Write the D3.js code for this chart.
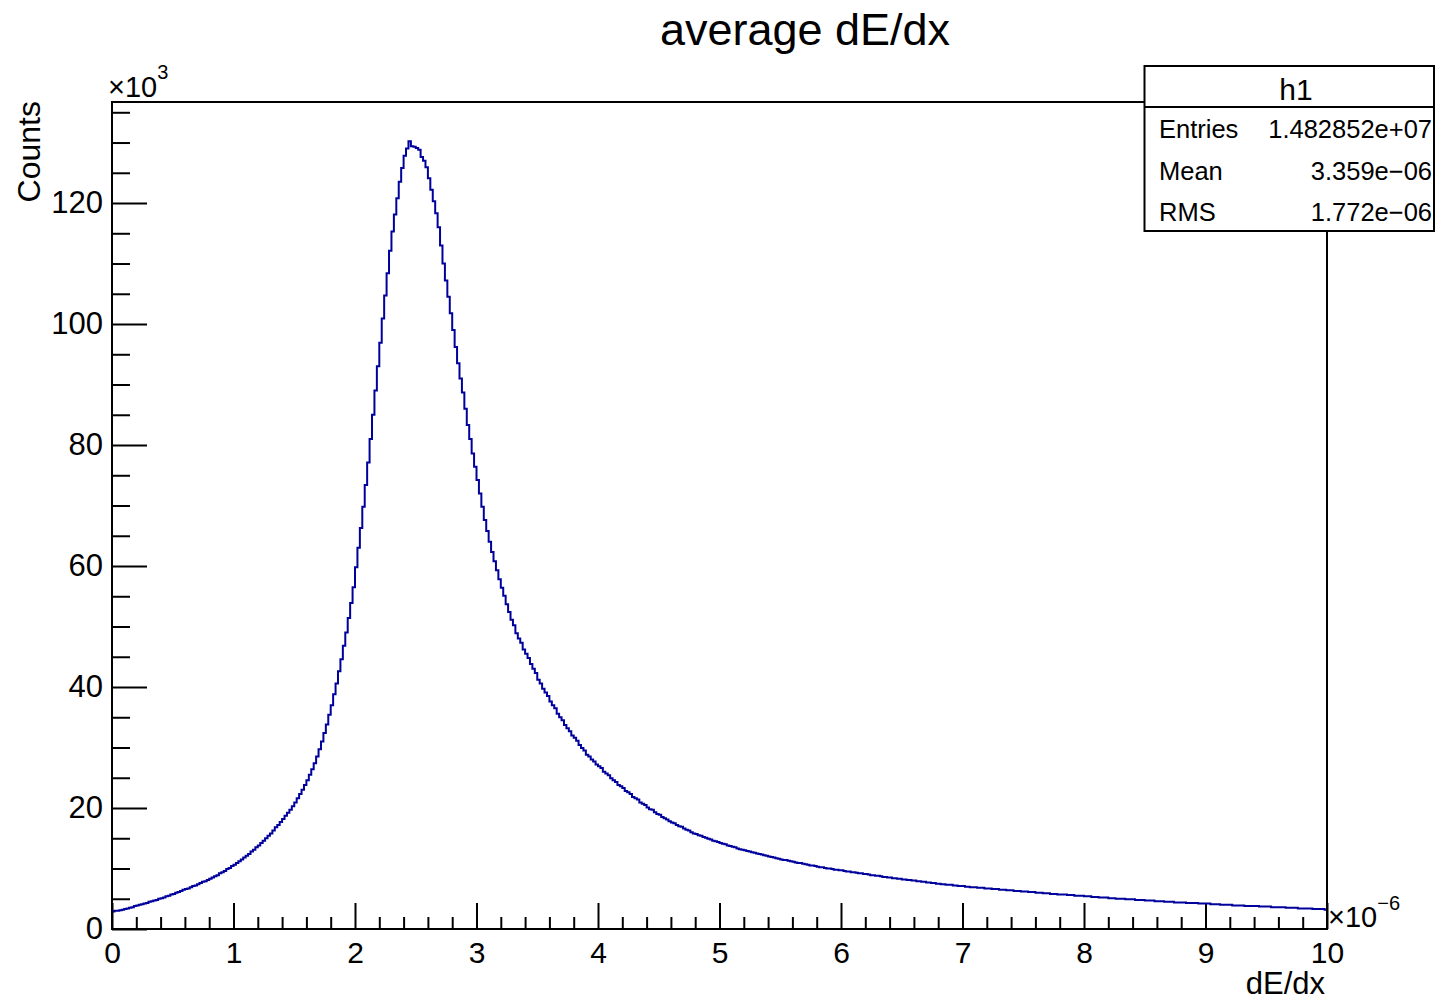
<!DOCTYPE html>
<html>
<head>
<meta charset="utf-8">
<script src="https://cdn.jsdelivr.net/npm/d3@7"></script>
<style>
  body { margin: 0; background: #fff; }
  svg { display: block; font-family: "Liberation Sans", Arial, Helvetica, sans-serif; }
</style>
</head>
<body>
<div id="chart"></div>
<script>
// histogram h1: 500 bins over [0, 10] x 1e-6, counts in units of 1e3
const xMin = 0, xMax = 10;
const binCounts = [
  2.9, 3.0, 3.0, 3.1, 3.2, 3.3, 3.4, 3.5, 3.6, 3.8,
  3.9, 4.0, 4.1, 4.2, 4.3, 4.5, 4.6, 4.7, 4.8, 5.0,
  5.1, 5.2, 5.4, 5.5, 5.7, 5.8, 6.0, 6.1, 6.3, 6.5,
  6.6, 6.7, 6.9, 7.1, 7.2, 7.4, 7.6, 7.8, 7.9, 8.1,
  8.3, 8.5, 8.7, 8.9, 9.2, 9.4, 9.6, 9.9, 10.1, 10.4,
  10.6, 10.9, 11.2, 11.5, 11.8, 12.1, 12.4, 12.8, 13.1, 13.5,
  13.8, 14.2, 14.6, 15.0, 15.4, 15.8, 16.3, 16.8, 17.2, 17.7,
  18.2, 18.7, 19.2, 19.7, 20.3, 20.9, 21.6, 22.3, 23.0, 23.8,
  24.6, 25.5, 26.4, 27.4, 28.5, 29.7, 31.0, 32.4, 33.8, 35.4,
  37.0, 38.8, 40.6, 42.6, 44.6, 46.8, 49.0, 51.4, 53.9, 56.5,
  59.8, 63.0, 66.3, 69.8, 73.4, 77.1, 81.0, 85.0, 89.0, 93.0,
  96.9, 100.9, 104.7, 108.4, 112.1, 115.3, 118.1, 120.8, 123.5, 125.8,
  127.8, 129.0, 130.2, 129.4, 129.3, 129.1, 128.8, 127.6, 127.0, 125.9,
  124.1, 122.2, 120.3, 118.3, 116.0, 113.0, 110.0, 107.2, 104.5, 101.8,
  99.0, 96.2, 93.5, 91.0, 88.7, 86.0, 83.3, 81.0, 78.6, 76.4,
  74.2, 72.0, 69.8, 67.6, 65.8, 64.0, 62.3, 60.8, 59.3, 57.8,
  56.4, 55.1, 53.7, 52.4, 51.1, 50.2, 48.9, 48.0, 47.3, 46.2,
  45.5, 44.8, 43.8, 43.0, 42.3, 41.2, 40.6, 39.7, 39.1, 38.5,
  37.6, 37.0, 36.5, 35.6, 35.0, 34.5, 33.7, 33.2, 32.7, 32.0,
  31.6, 31.1, 30.4, 29.9, 29.5, 28.8, 28.5, 28.0, 27.7, 27.2,
  26.9, 26.6, 26.0, 25.7, 25.4, 24.9, 24.6, 24.3, 23.8, 23.6,
  23.3, 22.8, 22.6, 22.3, 21.8, 21.6, 21.4, 20.9, 20.7, 20.5,
  20.1, 19.8, 19.7, 19.3, 19.0, 18.9, 18.5, 18.3, 18.1, 17.8,
  17.6, 17.5, 17.2, 17.0, 16.9, 16.6, 16.4, 16.3, 16.0, 15.8,
  15.7, 15.5, 15.4, 15.2, 15.1, 14.9, 14.8, 14.6, 14.5, 14.4,
  14.2, 14.1, 14.0, 13.8, 13.7, 13.6, 13.5, 13.3, 13.2, 13.1,
  13.0, 12.9, 12.8, 12.7, 12.6, 12.5, 12.4, 12.3, 12.2, 12.1,
  12.0, 11.9, 11.8, 11.7, 11.6, 11.5, 11.4, 11.4, 11.3, 11.2,
  11.1, 11.0, 10.9, 10.9, 10.8, 10.7, 10.6, 10.5, 10.5, 10.4,
  10.3, 10.2, 10.2, 10.1, 10.0, 10.0, 9.9, 9.8, 9.8, 9.7,
  9.7, 9.6, 9.5, 9.5, 9.4, 9.4, 9.3, 9.2, 9.2, 9.1,
  9.1, 9.0, 8.9, 8.9, 8.8, 8.8, 8.7, 8.6, 8.6, 8.5,
  8.5, 8.4, 8.4, 8.3, 8.3, 8.2, 8.2, 8.1, 8.1, 8.0,
  8.0, 7.9, 7.9, 7.8, 7.8, 7.7, 7.7, 7.6, 7.6, 7.5,
  7.5, 7.4, 7.4, 7.3, 7.3, 7.3, 7.2, 7.2, 7.1, 7.1,
  7.1, 7.0, 7.0, 6.9, 6.9, 6.9, 6.8, 6.8, 6.8, 6.7,
  6.7, 6.7, 6.6, 6.6, 6.6, 6.5, 6.5, 6.5, 6.4, 6.4,
  6.4, 6.3, 6.3, 6.3, 6.2, 6.2, 6.2, 6.1, 6.1, 6.1,
  6.0, 6.0, 6.0, 5.9, 5.9, 5.9, 5.8, 5.8, 5.8, 5.7,
  5.7, 5.7, 5.7, 5.6, 5.6, 5.6, 5.5, 5.5, 5.5, 5.5,
  5.4, 5.4, 5.4, 5.3, 5.3, 5.3, 5.2, 5.2, 5.2, 5.2,
  5.1, 5.1, 5.1, 5.0, 5.0, 5.0, 5.0, 4.9, 4.9, 4.9,
  4.9, 4.8, 4.8, 4.8, 4.8, 4.7, 4.7, 4.7, 4.7, 4.6,
  4.6, 4.6, 4.6, 4.5, 4.5, 4.5, 4.5, 4.4, 4.4, 4.4,
  4.4, 4.4, 4.3, 4.3, 4.3, 4.3, 4.3, 4.2, 4.2, 4.2,
  4.2, 4.2, 4.1, 4.1, 4.1, 4.1, 4.0, 4.0, 4.0, 4.0,
  4.0, 3.9, 3.9, 3.9, 3.9, 3.9, 3.8, 3.8, 3.8, 3.8,
  3.8, 3.8, 3.7, 3.7, 3.7, 3.7, 3.7, 3.6, 3.6, 3.6,
  3.6, 3.6, 3.6, 3.5, 3.5, 3.5, 3.5, 3.5, 3.4, 3.4,
  3.4, 3.4, 3.4, 3.4, 3.3, 3.3, 3.3, 3.3, 3.3, 3.2
];

const xTickValues = [0, 1, 2, 3, 4, 5, 6, 7, 8, 9, 10];
const yTickValues = [0, 20, 40, 60, 80, 100, 120];
const statLabels = ["Entries", "Mean", "RMS"];
const statValues = ["1.482852e+07", "3.359e\u221206", "1.772e\u221206"];

const width = 1435, height = 1002;
const margin = { top: 102, right: 108, bottom: 73, left: 112 };
const lineColor = "#00009c";

const svg = d3.select("#chart").append("svg")
    .attr("width", width)
    .attr("height", height);

const xScale = d3.scaleLinear().domain([xMin, xMax]).range([margin.left, width - margin.right]);
const yScale = d3.scaleLinear().domain([0, 136.7]).range([height - margin.bottom, margin.top]);

const binWidth = (xMax - xMin) / binCounts.length;
const stepPoints = binCounts.map((c, i) => [xMin + i * binWidth, c]);
stepPoints.push([xMax, binCounts[binCounts.length - 1]]);

// minor ticks first
const xMinor = d3.range(0, 50).map(i => i * 0.2).filter(v => !xTickValues.includes(Math.round(v * 1000) / 1000));
svg.append("g")
    .attr("transform", `translate(0,${height - margin.bottom})`)
    .call(d3.axisBottom(xScale).tickValues(xMinor).tickSize(-12).tickFormat(""))
    .call(g => g.select(".domain").remove());

const yMinor = d3.range(0, 137, 5).filter(v => v % 20 !== 0);
svg.append("g")
    .attr("transform", `translate(${margin.left},0)`)
    .call(d3.axisLeft(yScale).tickValues(yMinor).tickSize(-18).tickFormat(""))
    .call(g => g.select(".domain").remove());

// major ticks with labels
svg.append("g")
    .attr("transform", `translate(0,${height - margin.bottom})`)
    .call(d3.axisBottom(xScale).tickValues(xTickValues).tickSize(-26).tickPadding(13).tickFormat(d3.format("d")))
    .call(g => g.select(".domain").remove())
    .selectAll("text")
    .attr("font-size", 30);

svg.append("g")
    .attr("transform", `translate(${margin.left},0)`)
    .call(d3.axisLeft(yScale).tickValues(yTickValues).tickSize(-35).tickPadding(9).tickFormat(d3.format("d")))
    .call(g => g.select(".domain").remove())
    .selectAll("text")
    .attr("font-size", 31);

svg.selectAll(".tick line").attr("stroke", "#000").attr("stroke-width", 2);
svg.selectAll(".tick text").attr("fill", "#000").attr("font-family", "Liberation Sans, Arial, sans-serif");

// histogram outline
svg.append("path")
    .datum(stepPoints)
    .attr("fill", "none")
    .attr("stroke", lineColor)
    .attr("stroke-width", 2)
    .attr("d", d3.line()
        .x(d => xScale(d[0]))
        .y(d => yScale(d[1]))
        .curve(d3.curveStepAfter));

// frame
svg.append("rect")
    .attr("x", margin.left)
    .attr("y", margin.top)
    .attr("width", width - margin.right - margin.left)
    .attr("height", height - margin.bottom - margin.top)
    .attr("fill", "none")
    .attr("stroke", "#000")
    .attr("stroke-width", 2);

// title and axis titles
svg.append("text")
    .attr("x", 805)
    .attr("y", 45)
    .attr("text-anchor", "middle")
    .attr("font-size", 45)
    .text("average dE/dx");

svg.append("text")
    .attr("transform", `translate(40,${margin.top - 1}) rotate(-90)`)
    .attr("text-anchor", "end")
    .attr("font-size", 32)
    .text("Counts");

svg.append("text")
    .attr("x", width - margin.right - 2)
    .attr("y", 994)
    .attr("text-anchor", "end")
    .attr("font-size", 31)
    .text("dE/dx");

// axis multipliers
const yExp = svg.append("text")
    .attr("x", 108)
    .attr("y", 97)
    .attr("font-size", 29);
yExp.append("tspan").text("\u00d710");
yExp.append("tspan").attr("font-size", 20).attr("dy", -18).text("3");

const xExp = svg.append("text")
    .attr("x", 1328)
    .attr("y", 927)
    .attr("font-size", 29);
xExp.append("tspan").text("\u00d710");
xExp.append("tspan").attr("font-size", 20).attr("dy", -17).text("\u22126");

// stats box
const box = svg.append("g");
box.append("rect")
    .attr("x", 1144.5)
    .attr("y", 66)
    .attr("width", 289.5)
    .attr("height", 165)
    .attr("fill", "#fff")
    .attr("stroke", "#000")
    .attr("stroke-width", 2);

box.append("line")
    .attr("x1", 1144.5).attr("x2", 1434)
    .attr("y1", 107).attr("y2", 107)
    .attr("stroke", "#000")
    .attr("stroke-width", 2);

box.append("text")
    .attr("x", 1296)
    .attr("y", 100)
    .attr("text-anchor", "middle")
    .attr("font-size", 30)
    .text("h1");

statLabels.forEach((label, i) => {
    const yPos = 138 + i * 41.5;
    box.append("text")
        .attr("x", 1159)
        .attr("y", yPos)
        .attr("font-size", 25.5)
        .text(label);
    box.append("text")
        .attr("x", 1432)
        .attr("y", yPos)
        .attr("text-anchor", "end")
        .attr("font-size", 25.5)
        .text(statValues[i]);
});
</script>
</body>
</html>
